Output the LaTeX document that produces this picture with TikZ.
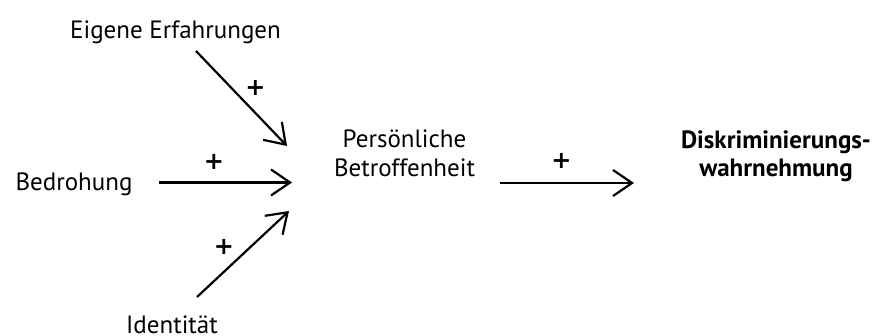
\documentclass[tikz,border=0pt]{standalone}
\usepackage{fontspec}
\setmainfont{PT Sans}
\newfontfamily\plusfont{DejaVu Sans}
\usetikzlibrary{arrows.meta}
\begin{document}
\begin{tikzpicture}[x=1pt,y=-1pt,
  lbl/.style={font=\fontsize{25}{29.5}\selectfont, inner sep=0pt, anchor=base},
  lbl2/.style={lbl, align=center},
  plus/.style={font=\plusfont\bfseries\fontsize{24}{29.5}\selectfont, inner sep=0pt},
  arr/.style={line width=2.2pt, -{Straight Barb[length=19pt,width=26pt,line width=2.2pt]}}]
\useasboundingbox (0,0) rectangle (876,336);
\node[lbl] (eig) at (175.5,38.3) {Eigene Erfahrungen};
\node[lbl] (bed) at (74,191) {Bedrohung};
\node[lbl, text depth=0pt] (ide) at (172,334) {Identität};
\node[lbl2] (per) at (404.5,176.7) {Persönliche\\Betroffenheit};
\node[lbl2, font=\fontsize{25}{28.5}\selectfont\bfseries] (dis) at (776,177) {Diskriminierungs-\\wahrnehmung};
\coordinate (e1) at (196,51);
\coordinate (e2) at (287,146);
\coordinate (b1) at (159,182.5);
\coordinate (b2) at (292,182.5);
\coordinate (i1) at (197,297);
\coordinate (i2) at (289,211);
\coordinate (p1) at (500,183);
\coordinate (p2) at (634,183);
\draw[arr] (e1) -- (e2);
\draw[arr] (b1) -- (b2);
\draw[arr] (i1) -- (i2);
\draw[arr] (p1) -- (p2);
\node[plus] (pl1) at (255.5,88) {+};
\node[plus] (pl2) at (214,162) {+};
\node[plus] (pl3) at (224,247) {+};
\node[plus] (pl4) at (561.5,161) {+};
\end{tikzpicture}
\end{document}
